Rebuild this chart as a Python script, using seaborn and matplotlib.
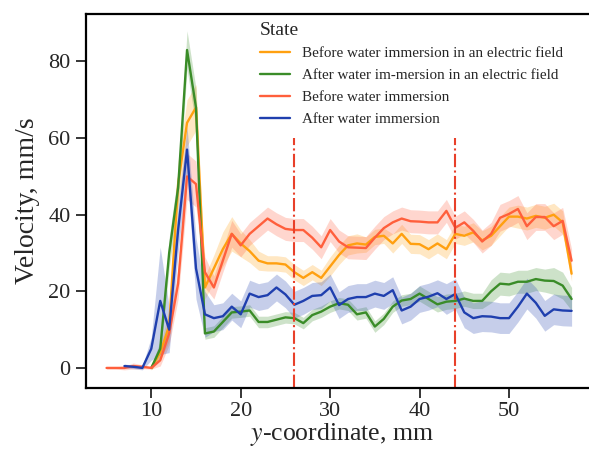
import numpy as np
import pandas as pd
import matplotlib
matplotlib.use("Agg")
import matplotlib.pyplot as plt
import seaborn as sns

# ---- data (mean and half band width per mm) ----
states = [
    "Before water immersion in an electric field",
    "After water im-mersion in an electric field",
    "Before water immersion",
    "After water immersion",
]

x_before_field = list(range(10, 58))
v_before_field = [0, 4, 11, 48, 64, 68, 21, 26, 31, 35, 32.5, 30.5, 28, 27.3, 27.3, 27, 25,
                  23.5, 25, 23.5, 26.5, 29.5, 32, 32.5, 32.2, 34.2, 34.5, 32.5, 35, 32.4, 32.3,
                  31, 32.5, 31, 35, 34.5, 35.4, 33.3, 34.5, 37, 39.5, 39.5, 39, 39.7, 39.2, 40,
                  38, 24.6]
d_before_field = [0.5, 2, 4, 6, 6, 6, 3, 3.5, 4.5, 4.5, 3.5, 3, 2.5, 2, 2, 2, 2,
                  2, 2, 2, 2.5, 2.5, 2.5, 2.5, 2, 2, 2, 2.5, 2.5, 2.5, 2.5,
                  2.5, 2.5, 2.5, 2.5, 2.5, 2.5, 2.5, 2.5, 2.5, 2.5, 3, 3, 3, 3, 3,
                  3, 2]

x_after_field = list(range(10, 58))
v_after_field = [0, 5, 30, 47, 83, 68, 9, 9.5, 12, 14.5, 14.7, 15, 12, 12, 12.6, 13.2, 13,
                 11.7, 13.8, 14.7, 16, 16.9, 16.5, 14, 14.5, 10.8, 12.8, 16, 17.6, 18, 19.4,
                 18, 16.6, 17.3, 17.5, 18.1, 17.5, 17.5, 20, 22, 21.8, 22.5, 22.5, 23.2, 22.8,
                 22.7, 21.5, 18]
d_after_field = [0.5, 2, 4, 4, 5, 5, 1.5, 1.5, 1.5, 1.5, 1.5, 1.5, 1.5, 1.5, 1.5, 1.5, 1.5,
                 1.5, 1.5, 1.5, 1.5, 1.5, 1.5, 1.5, 1.5, 1.5, 1.5, 1.5, 1.5, 1.5, 2,
                 2, 2, 2, 2, 2, 2, 2, 3, 3, 3, 3, 3, 3, 3,
                 3.5, 3.5, 3]

x_before = list(range(5, 58))
v_before = [0, 0, 0, 0.5, 0.3, 0, 2, 9, 22, 50, 48, 25, 21, 28, 35, 32, 35, 37, 39, 37.5,
            36.3, 36, 36, 34, 31.5, 36, 33, 31.5, 31.4, 31.3, 34, 36.5, 38, 39, 38.3, 38.2,
            38, 38, 41, 36.6, 38, 35.8, 33, 35, 39.2, 40.2, 41.5, 37, 39.4, 39.4, 37, 38.4, 28]
d_before = [0.3, 0.3, 0.5, 0.8, 0.5, 0.3, 1.5, 3, 4, 6, 6, 4, 3, 3, 3.5, 3, 3, 3, 3, 3,
            3, 3, 3, 3, 3, 3, 3, 3, 3, 3, 3, 3, 3, 3, 3, 3,
            3, 3, 3, 3, 3, 3, 3, 3, 3.5, 3.5, 3.5, 3.5, 3.5, 3.5, 3.5, 3.5, 3]

x_after = list(range(7, 58))
v_after = [0.5, 0.3, 0, 5, 17.5, 10, 36, 57, 26, 14, 13, 13.5, 16, 14, 19.4, 18.5, 19, 21,
           19.2, 16.5, 17.5, 18.8, 19, 21, 16.4, 18, 18.5, 18.5, 19.4, 18.8, 20.3, 15, 16,
           18, 18.6, 19.5, 18, 19.3, 14.5, 13, 13.5, 13.4, 13, 13, 16, 19.4, 17, 13.6, 15.3,
           15, 14.9]
d_after = [0.5, 0.5, 0.5, 3, 14, 6, 6, 6, 8, 6, 3.5, 3.5, 3.5, 3.5, 3.5, 3.5, 3.5, 3.5,
           3.5, 3.5, 3.5, 3.5, 3.5, 3.5, 3.5, 3.5, 3.5, 3.5, 3.5, 3.5, 3.5, 3.5, 3.5,
           3.5, 3.5, 3.5, 4, 4, 4, 4, 4, 4, 4, 4, 4, 4, 4, 4, 4,
           4, 4]

cut_lines = [26, 44]

palette = {
    states[0]: "#ffa010",
    states[1]: "#3a8c28",
    states[2]: "#ff5f3c",
    states[3]: "#1f3fae",
}

# ---- long table: three samples per point give the band through seaborn ----
rows = []
for name, xs, vs, ds in [(states[0], x_before_field, v_before_field, d_before_field),
                         (states[1], x_after_field, v_after_field, d_after_field),
                         (states[2], x_before, v_before, d_before),
                         (states[3], x_after, v_after, d_after)]:
    for xi, vi, di in zip(xs, vs, ds):
        for s in (-1, 0, 1):
            rows.append({"y": xi, "Velocity": vi + s * di, "State": name})
df = pd.DataFrame(rows)

sns.set_style("ticks")
plt.rcParams['font.family'] = ['Liberation Serif', 'DejaVu Serif']
plt.rcParams['mathtext.fontset'] = 'stix'

fig = plt.figure(figsize=(5.89, 4.51), dpi=100)
ax = fig.add_axes([0.146, 0.14, 0.87, 0.829])

sns.lineplot(data=df, x="y", y="Velocity", hue="State", hue_order=states,
             palette=palette, estimator="mean", errorbar=("pi", 100),
             linewidth=1.7, err_kws={"alpha": 0.25, "linewidth": 0}, ax=ax)

ax.vlines(cut_lines, -5.2, 60, colors="#e8402a", linestyles="-.", linewidth=1.5)

ax.set_xlim(2.7, 60.0)
ax.set_ylim(-5.2, 92.4)
ax.set_xticks([10, 20, 30, 40, 50])
ax.set_yticks([0, 20, 40, 60, 80])
ax.tick_params(labelsize=16, length=7, width=1.3, direction="out", pad=4)
ax.tick_params(axis="x", pad=3)
ax.set_xlabel("$y$-coordinate, mm", fontsize=18.5, labelpad=0)
ax.set_ylabel("Velocity, mm/s", fontsize=20, labelpad=6)
for side in ["left", "bottom", "top"]:
    ax.spines[side].set_linewidth(1.6)
    ax.spines[side].set_color("black")
ax.spines["right"].set_visible(False)

ax.legend(title="State", frameon=False, loc="upper left",
          bbox_to_anchor=(0.325, 1.0), borderaxespad=0.1,
          fontsize=10.9, title_fontsize=14, handlelength=2.0, handletextpad=0.8,
          labelspacing=0.55, alignment="left")

plt.savefig("out.png", dpi=100)
plt.close()
